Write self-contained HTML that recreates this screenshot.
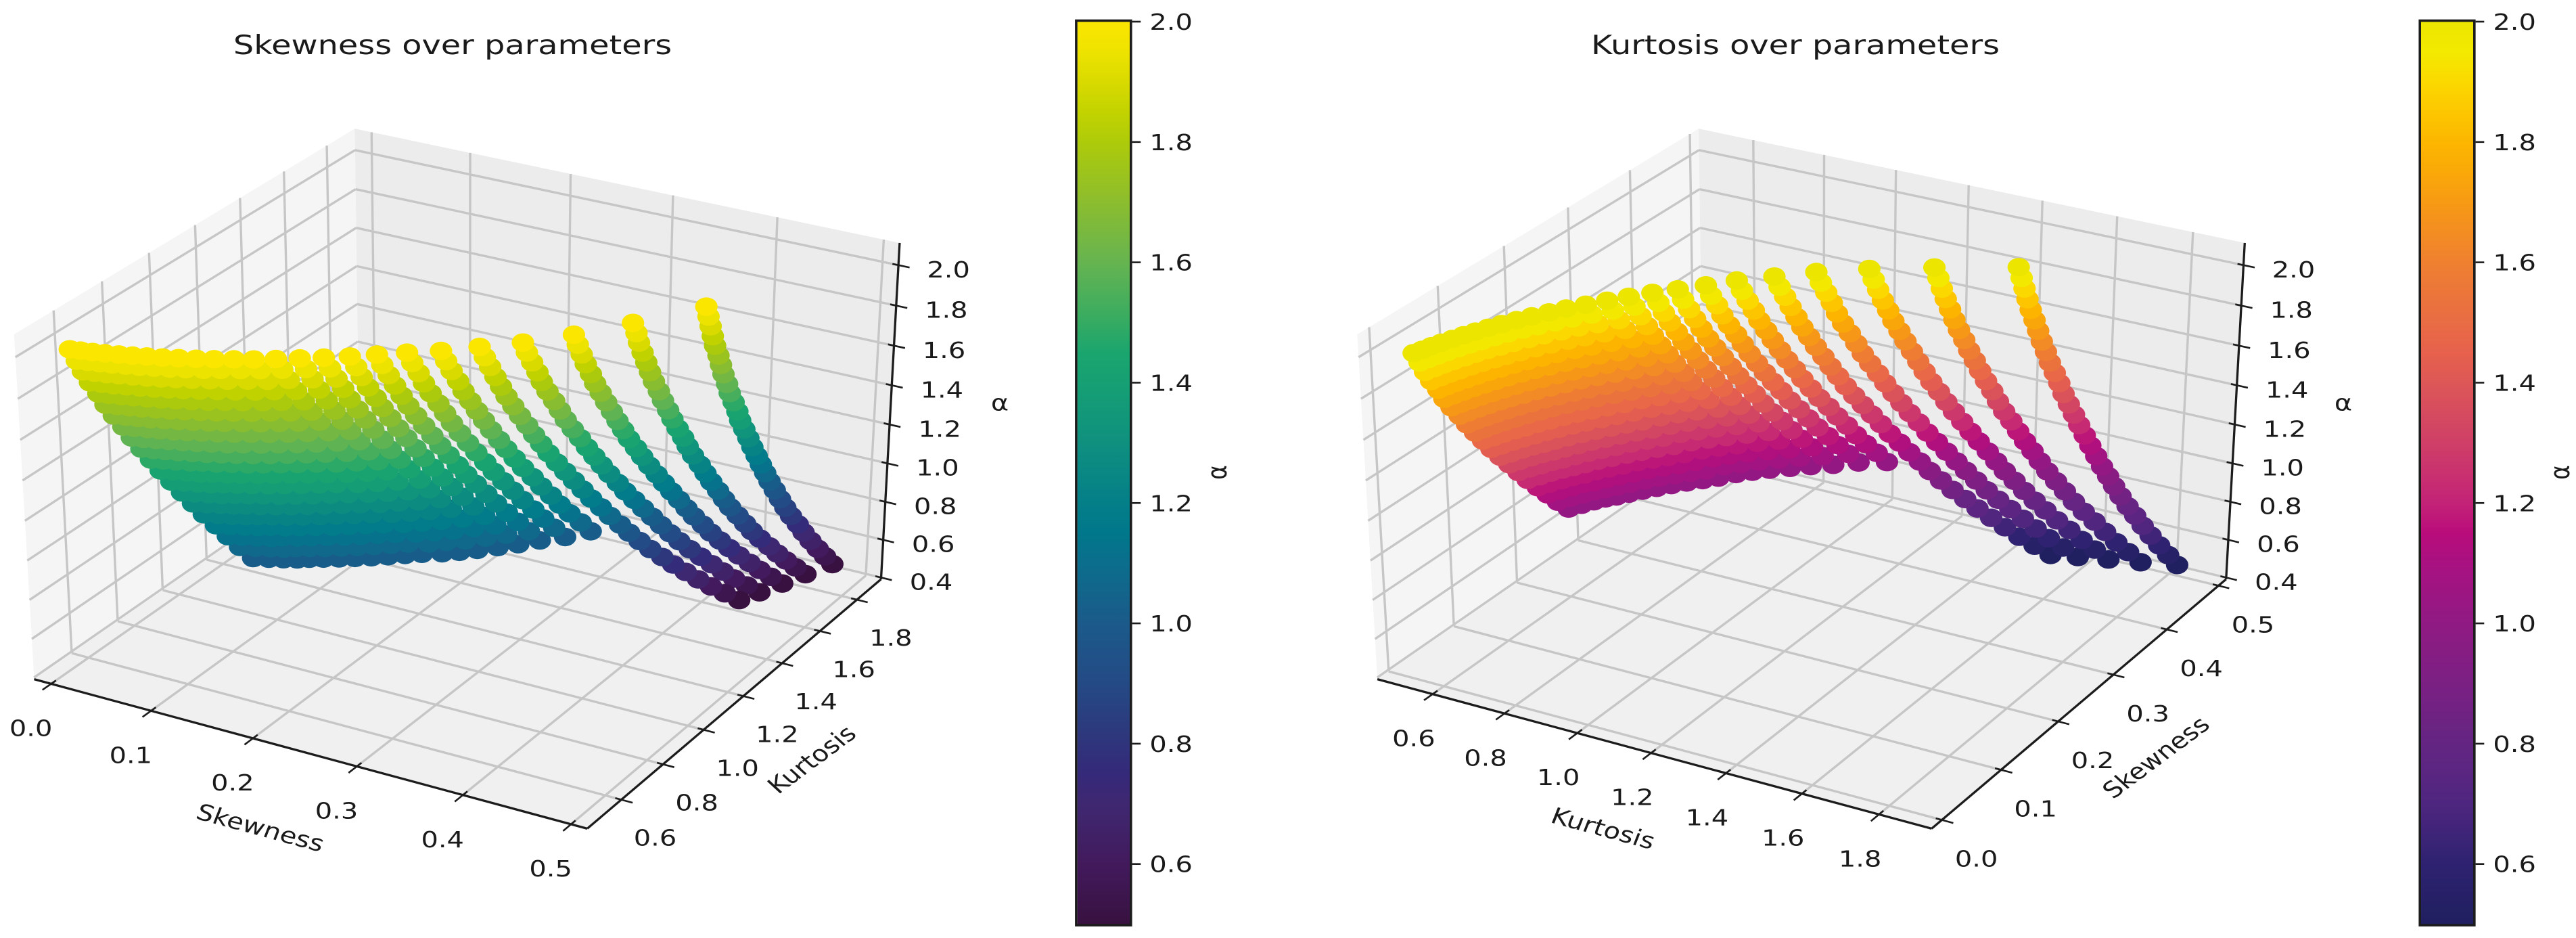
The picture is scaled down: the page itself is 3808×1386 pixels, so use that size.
<!DOCTYPE html>
<html lang="en">
<head>
<meta charset="utf-8">
<title>Skewness and Kurtosis over parameters</title>
<style>
html,body{margin:0;padding:0;background:#fff}
svg{display:block}
text{font-family:"DejaVu Sans","Liberation Sans",sans-serif;fill:#1a1a1a}
</style>
</head>
<body>
<svg id="figure" xmlns="http://www.w3.org/2000/svg" width="3808" height="1386" viewBox="0 0 3808 1386">
  <defs id="gradients"></defs>
  <g id="panel-left"></g>
  <g id="panel-right"></g>
  <g id="labels">
    <text font-size="39.5" text-anchor="middle" transform="translate(669,80) scale(1.21,1)">Skewness over parameters</text>
    <text font-size="39.5" text-anchor="middle" transform="translate(2654,80) scale(1.21,1)">Kurtosis over parameters</text>
    <text font-size="33" text-anchor="middle" dy=".35em" transform="translate(385,1223) scale(1.21,1) rotate(18)">Skewness</text>
    <text font-size="33" text-anchor="middle" dy=".35em" transform="translate(1200,1122) scale(1.21,1) rotate(-42)">Kurtosis</text>
    <text font-size="33" text-anchor="middle" dy=".35em" transform="translate(1478,595) scale(1.21,1)">α</text>
    <text font-size="33" text-anchor="middle" dy=".35em" transform="translate(2370,1224) scale(1.21,1) rotate(18)">Kurtosis</text>
    <text font-size="33" text-anchor="middle" dy=".35em" transform="translate(3187,1119) scale(1.21,1) rotate(-42)">Skewness</text>
    <text font-size="33" text-anchor="middle" dy=".35em" transform="translate(3464,595) scale(1.21,1)">α</text>
    <text font-size="33" text-anchor="middle" dy=".35em" transform="translate(1799,698) scale(1.21,1) rotate(-90)">α</text>
    <text font-size="33" text-anchor="middle" dy=".35em" transform="translate(3784,698) scale(1.21,1) rotate(-90)">α</text>
  </g>
</svg>
<script>
const alphaLevels = [2.000,1.948,1.897,1.845,1.793,1.741,1.690,1.638,1.586,1.534,1.483,1.431,1.379,1.328,1.276,1.224,1.172,1.121,1.069,1.017,.966,.914,.862,.810,.759,.707,.655,.603,.552,.500];

const skewnessByCurve = [
[.417,.418,.419,.420,.421,.423,.424,.425,.427,.428,.430,.432,.433,.435,.437,.439,.441,.443,.445,.447,.450,.453,.456,.459,.463,.466,.470,.474,.478,.482],
[.381,.383,.384,.386,.388,.390,.392,.395,.397,.400,.402,.405,.408,.410,.413,.417,.420,.423,.427,.430,.433,.437,.441,.444,.448,.453,.457,.461,.466,.471],
[.351,.353,.355,.357,.360,.362,.365,.368,.371,.374,.377,.380,.384,.387,.391,.395,.399,.403,.407,.411,.415,.420,.424,.429,.434,.439,.445,.450,.456,.462],
[.323,.325,.328,.331,.333,.336,.340,.343,.346,.350,.354,.358,.362,.366,.370,.375,.379,.384,.389,.394,.399,.404,.409,.415,.421,.427,.433,.439,.446,.453],
[.297,.300,.303,.306,.309,.312,.316,.320,.324,.328,.332,.336,.341,.346,.351,.356,.361,.367,.372,.378,.383,.389,.395,.402,.408,.415,.422,.429,.437,.445],
[.274,.277,.280,.284,.287,.291,.295,.299,.303,.308,.312,.317,.322,.328,.333,.339,.344,.350,.357,.363],
[.252,.255,.259,.262,.266,.271,.275,.279,.284,.289,.294,.300,.305,.311,.317,.323,.330,.336,.343,.350],
[.233,.236,.240,.244,.248,.252,.257,.262,.267,.272,.277,.283,.288,.294,.301,.307,.314,.321,.328,.335],
[.216,.220,.223,.227,.232,.236,.241,.246,.251,.257,.262,.268,.274,.280,.287,.294,.301,.308,.315,.323],
[.199,.203,.207,.211,.215,.220,.225,.230,.236,.241,.247,.253,.260,.266,.273,.280,.288,.295,.303,.311],
[.183,.187,.191,.195,.200,.205,.210,.215,.221,.227,.233,.239,.246,.253,.260,.267,.275,.283,.291,.299],
[.167,.171,.175,.180,.185,.190,.195,.201,.207,.213,.219,.226,.233,.240,.247,.255,.263,.271,.279,.288],
[.152,.156,.161,.165,.170,.176,.181,.187,.193,.199,.206,.213,.220,.227,.235,.243,.251,.259,.268,.277],
[.138,.142,.147,.152,.157,.162,.168,.174,.180,.186,.192,.199,.205,.213,.221,.229,.237,.245,.253,.263],
[.124,.128,.133,.138,.143,.149,.155,.161,.167,.173,.179,.186,.193,.201,.209,.217,.225,.233,.242,.252],
[.111,.116,.120,.125,.130,.136,.142,.148,.155,.161,.167,.174,.181,.189,.197,.205,.214,.222,.231,.241],
[.098,.103,.107,.112,.118,.124,.129,.136,.142,.149,.155,.162,.169,.177,.185,.194,.203,.211,.220,.230],
[.086,.091,.095,.100,.106,.112,.118,.124,.131,.137,.144,.151,.158,.166,.174,.182,.191,.199,.209,.219],
[.074,.079,.084,.089,.094,.100,.106,.112,.119,.126,.132,.139,.146,.154,.163,.171,.180,.188,.198,.208],
[.063,.068,.073,.078,.083,.089,.095,.101,.108,.115,.121,.129,.135,.143,.152,.160,.170,.178,.187,.197],
[.052,.057,.062,.067,.072,.078,.084,.091,.097,.104,.110,.118,.125,.133,.141,.150,.159,.167,.177,.187],
[.041,.046,.051,.056,.061,.067,.073,.080,.086,.093,.101,.108,.116,.124,.132,.141,.150,.160,.169,.179],
[.031,.036,.041,.046,.051,.057,.063,.070,.076,.083,.090,.098,.106,.114,.122,.131,.140,.149,.159,.169],
[.021,.026,.031,.036,.041,.047,.053,.059,.066,.073,.080,.087,.095,.103,.112,.120,.129,.138,.148,.158],
[.012,.017,.021,.026,.032,.037,.043,.050,.056,.063,.070,.077,.085,.093,.101,.109,.118,.127,.136,.146]
];

const kurtosisByCurve = [
[1.484,1.491,1.498,1.505,1.513,1.521,1.530,1.539,1.548,1.558,1.569,1.579,1.590,1.602,1.614,1.626,1.639,1.652,1.666,1.680,1.693,1.706,1.720,1.736,1.752,1.769,1.786,1.805,1.825,1.845],
[1.314,1.322,1.330,1.338,1.347,1.356,1.366,1.376,1.387,1.398,1.410,1.422,1.435,1.448,1.461,1.475,1.490,1.505,1.520,1.536,1.553,1.572,1.591,1.612,1.634,1.657,1.681,1.707,1.733,1.761],
[1.186,1.195,1.204,1.214,1.224,1.235,1.247,1.259,1.272,1.285,1.298,1.312,1.327,1.343,1.358,1.375,1.392,1.409,1.428,1.446,1.464,1.484,1.505,1.527,1.550,1.575,1.601,1.628,1.656,1.686],
[1.088,1.097,1.107,1.117,1.128,1.140,1.152,1.165,1.178,1.192,1.207,1.221,1.237,1.253,1.270,1.287,1.305,1.324,1.343,1.363,1.382,1.403,1.425,1.448,1.473,1.499,1.526,1.554,1.584,1.615],
[1.017,1.026,1.036,1.046,1.057,1.068,1.080,1.092,1.106,1.119,1.133,1.148,1.163,1.179,1.196,1.213,1.230,1.248,1.267,1.287,1.307,1.329,1.352,1.377,1.402,1.430,1.458,1.488,1.519,1.552],
[.953,.962,.972,.982,.992,1.004,1.015,1.028,1.041,1.054,1.068,1.083,1.098,1.114,1.130,1.147,1.164,1.182,1.201,1.220],
[.906,.915,.924,.933,.944,.955,.966,.978,.990,1.003,1.017,1.030,1.045,1.060,1.076,1.092,1.109,1.126,1.144,1.162],
[.862,.871,.880,.889,.899,.910,.921,.933,.946,.958,.972,.985,1.000,1.015,1.030,1.046,1.063,1.080,1.098,1.116],
[.822,.831,.840,.849,.859,.870,.881,.892,.905,.917,.930,.944,.958,.973,.988,1.004,1.021,1.038,1.055,1.073],
[.787,.795,.804,.814,.823,.834,.845,.856,.869,.881,.894,.908,.922,.936,.951,.967,.983,1.000,1.017,1.035],
[.756,.764,.773,.782,.792,.802,.813,.824,.836,.848,.861,.874,.887,.902,.916,.932,.948,.964,.981,.998],
[.726,.734,.743,.751,.761,.771,.782,.793,.804,.816,.831,.844,.857,.871,.887,.902,.917,.933,.951,.968],
[.699,.707,.715,.724,.733,.743,.754,.765,.776,.788,.803,.817,.830,.845,.859,.875,.890,.907,.923,.941],
[.677,.685,.693,.701,.710,.720,.730,.740,.751,.763,.780,.793,.806,.820,.835,.850,.865,.881,.898,.915],
[.655,.663,.670,.679,.687,.697,.707,.717,.728,.739,.756,.769,.783,.796,.811,.825,.841,.857,.873,.890],
[.637,.644,.652,.660,.668,.677,.687,.697,.707,.718,.735,.748,.761,.773,.787,.802,.817,.832,.848,.864],
[.620,.627,.634,.642,.650,.659,.668,.678,.688,.698,.715,.727,.740,.752,.766,.780,.794,.809,.824,.840],
[.605,.612,.619,.626,.634,.643,.652,.661,.670,.680,.697,.709,.721,.733,.746,.759,.774,.788,.803,.818],
[.592,.599,.605,.613,.620,.628,.637,.646,.655,.665,.681,.691,.703,.716,.728,.740,.754,.768,.782,.797],
[.580,.586,.593,.600,.607,.615,.624,.632,.641,.650,.665,.676,.687,.699,.711,.724,.736,.750,.764,.778],
[.570,.576,.583,.589,.596,.604,.612,.620,.629,.638,.653,.662,.674,.685,.696,.709,.722,.734,.747,.761],
[.560,.566,.572,.579,.586,.593,.601,.609,.618,.626,.640,.649,.660,.670,.682,.694,.706,.718,.731,.744],
[.552,.558,.564,.570,.577,.584,.592,.600,.608,.616,.628,.638,.648,.658,.670,.680,.693,.704,.717,.729],
[.545,.551,.557,.563,.569,.576,.584,.591,.599,.608,.618,.627,.637,.646,.657,.668,.679,.690,.702,.714],
[.539,.544,.550,.556,.563,.569,.576,.584,.592,.600,.608,.617,.626,.635,.645,.655,.666,.676,.688,.699]
];

const skewnessTicks = [0,0.1,0.2,0.3,0.4,0.5];
const skewnessTickLabels = ['0.0','0.1','0.2','0.3','0.4','0.5'];
const kurtosisTicks = [0.6,0.8,1.0,1.2,1.4,1.6,1.8];
const kurtosisTickLabels = ['0.6','0.8','1.0','1.2','1.4','1.6','1.8'];
const alphaTicks = [0.4,0.6,0.8,1.0,1.2,1.4,1.6,1.8,2.0];
const alphaTickLabels = ['0.4','0.6','0.8','1.0','1.2','1.4','1.6','1.8','2.0'];
const colorbarTicks = [0.6,0.8,1.0,1.2,1.4,1.6,1.8,2.0];
const colorbarTickLabels = ['0.6','0.8','1.0','1.2','1.4','1.6','1.8','2.0'];

const viridisStops = [[2.0,'#fbe600'],[1.95,'#eee300'],[1.9,'#d9da00'],[1.85,'#c3d300'],[1.8,'#aecb0a'],[1.7,'#8cbd2e'],[1.6,'#66b450'],[1.5,'#35ab62'],[1.45,'#1ba56e'],[1.4,'#16a073'],[1.3,'#0f907f'],[1.2,'#047f88'],[1.15,'#00778b'],[1.1,'#0b6e8c'],[1.0,'#1b5a8a'],[0.9,'#244a85'],[0.8,'#2f347b'],[0.75,'#35297a'],[0.7,'#3f2871'],[0.6,'#421a5c'],[0.5,'#381140']];
const plasmaStops = [[2.0,'#ece500'],[1.95,'#f3ea00'],[1.9,'#fbd900'],[1.85,'#fdc700'],[1.8,'#fcb600'],[1.75,'#faa908'],[1.7,'#f79a14'],[1.6,'#ef8030'],[1.5,'#e86c44'],[1.45,'#e7614c'],[1.4,'#dd5757'],[1.3,'#cf3f67'],[1.2,'#c32377'],[1.15,'#b90c7b'],[1.1,'#a91181'],[1.0,'#901a83'],[0.9,'#7b2083'],[0.8,'#642582'],[0.7,'#4e267f'],[0.6,'#2e2270'],[0.5,'#201f60']];

const SVGNS = 'http://www.w3.org/2000/svg';
const STRETCH = 1.21;
const HX = 0.5952, HY = 0.5952, HZ = 0.4464;

function svgEl(tag, attrs){
  const e = document.createElementNS(SVGNS, tag);
  for (const k in attrs) e.setAttribute(k, attrs[k]);
  return e;
}
function hexToRgb(h){ return [parseInt(h.slice(1,3),16),parseInt(h.slice(3,5),16),parseInt(h.slice(5,7),16)]; }
function colorAt(stops, a){
  if (a >= stops[0][0]) return stops[0][1];
  for (let i = 1; i < stops.length; i++){
    if (a >= stops[i][0]){
      const t = (a - stops[i][0]) / (stops[i-1][0] - stops[i][0]);
      const c0 = hexToRgb(stops[i][1]), c1 = hexToRgb(stops[i-1][1]);
      return 'rgb(' + [0,1,2].map(j => Math.round(c0[j] + (c1[j]-c0[j])*t)).join(',') + ')';
    }
  }
  return stops[stops.length-1][1];
}
function projectFrac(panel, fx, fy, fz){
  const px = (2*fx-1)*HX, py = (2*fy-1)*HY, pz = (2*fz-1)*HZ;
  const xv = 0.8660254*px + 0.5*py;
  const yv = -0.25*px + 0.4330127*py + 0.8660254*pz;
  const d = 10 - (0.4330127*px - 0.75*py + 0.5*pz);
  return { x: panel.ox + panel.sx*xv/d, y: panel.oy - panel.sy*yv/d, d: d };
}
function xFrac(panel, v){ return (v - panel.xlim[0]) / (panel.xlim[1] - panel.xlim[0]); }
function yFrac(panel, v){ return (v - panel.ylim[0]) / (panel.ylim[1] - panel.ylim[0]); }
function zFrac(panel, v){ return (v - panel.zlim[0]) / (panel.zlim[1] - panel.zlim[0]); }
function lineBetween(g, a, b, stroke, width){
  const l = svgEl('line', {x1:a.x.toFixed(2), y1:a.y.toFixed(2), x2:b.x.toFixed(2), y2:b.y.toFixed(2), stroke:stroke, 'stroke-width':width});
  g.appendChild(l);
  return l;
}
function polyOf(g, pts, fill){
  const p = svgEl('polygon', {points: pts.map(q => q.x.toFixed(2)+','+q.y.toFixed(2)).join(' '), fill: fill});
  g.appendChild(p);
  return p;
}
function tickText(g, cx, cy, str){
  const t = svgEl('text', {'font-size':33, 'text-anchor':'middle', transform:'translate('+cx.toFixed(1)+','+(cy+12).toFixed(1)+') scale('+STRETCH+',1)'});
  t.textContent = str;
  g.appendChild(t);
  return t;
}

function drawPanel(panel){
  const g = document.getElementById(panel.id);
  const P = (fx,fy,fz) => projectFrac(panel, fx, fy, fz);

  const paneLeft = polyOf(g, [P(0,0,0),P(0,0,1),P(0,1,1),P(0,1,0)], '#f5f5f5');
  
  
  const paneBack = polyOf(g, [P(0,1,0),P(0,1,1),P(1,1,1),P(1,1,0)], '#ececec');
  
  
  const paneFloor = polyOf(g, [P(0,0,0),P(1,0,0),P(1,1,0),P(0,1,0)], '#f0f0f0');
  
  

  const GRID = '#c6c6c6', GW = 3.4, AXIS = '#1c1c1c';

  panel.xTicks.forEach(v => {
    const f = xFrac(panel, v);
    const a = lineBetween(g, P(f,0,0), P(f,1,0), GRID, GW);
    
    
    const b = lineBetween(g, P(f,1,0), P(f,1,1), GRID, GW);
    
    
  });
  panel.yTicks.forEach(v => {
    const f = yFrac(panel, v);
    const a = lineBetween(g, P(0,f,0), P(1,f,0), GRID, GW);
    
    
    const b = lineBetween(g, P(0,f,0), P(0,f,1), GRID, GW);
    
    
  });
  alphaTicks.forEach(v => {
    const f = zFrac(panel, v);
    const a = lineBetween(g, P(0,0,f), P(0,1,f), GRID, GW);
    
    
    const b = lineBetween(g, P(0,1,f), P(1,1,f), GRID, GW);
    
    
  });

  const xAxis = lineBetween(g, P(0,0,0), P(1,0,0), AXIS, 3.3);
  
  
  const yAxis = lineBetween(g, P(1,0,0), P(1,1,0), AXIS, 3.3);
  
  
  const zAxis = lineBetween(g, P(1,1,0), P(1,1,1), AXIS, 3.3);
  
  

  panel.xTicks.forEach((v,i) => {
    const f = xFrac(panel, v);
    const on = P(f,0,0);
    const tick = lineBetween(g, P(f,0.0138,0), P(f,-0.0246,0), AXIS, 2.6);
    
    
    const label = tickText(g, on.x + panel.xLabelOffset[0], on.y + panel.xLabelOffset[1], panel.xTickLabels[i]);
    
    
  });
  panel.yTicks.forEach((v,i) => {
    const f = yFrac(panel, v);
    const on = P(1,f,0);
    const tick = lineBetween(g, P(1-0.0105,f,0), P(1+0.0195,f,0), AXIS, 2.6);
    
    
    const label = tickText(g, on.x + panel.yLabelOffset[0], on.y + panel.yLabelOffset[1], panel.yTickLabels[i]);
    
    
  });
  alphaTicks.forEach((v,i) => {
    const f = zFrac(panel, v);
    const on = P(1,1,f);
    const tick = lineBetween(g, P(1-0.0105,1,f), P(1+0.0195,1,f), AXIS, 2.6);
    
    
    const label = tickText(g, on.x + 74, on.y + 6, alphaTickLabels[i]);
    
    
  });

  const points = [];
  skewnessByCurve.forEach((curve, c) => {
    curve.forEach((s, i) => {
      const k = kurtosisByCurve[c][i];
      const a = alphaLevels[i];
      const q = panel.swap ? P(xFrac(panel,k), yFrac(panel,s), zFrac(panel,a))
                           : P(xFrac(panel,s), yFrac(panel,k), zFrac(panel,a));
      points.push({q:q, a:a});
    });
  });
  points.sort((m,n) => n.q.d - m.q.d);
  const scatter = svgEl('g', {});
  
  
  g.appendChild(scatter);
  points.forEach(pt => {
    const dot = svgEl('ellipse', {cx:pt.q.x.toFixed(1), cy:pt.q.y.toFixed(1), rx:16.6, ry:13.7, fill:colorAt(panel.stops, pt.a)});
    
    
    scatter.appendChild(dot);
  });

  const CB_TOP = 32, CB_BOTTOM = 1365.6;
  const cbY = a => CB_TOP + (2.0 - a) / 1.5 * (CB_BOTTOM - CB_TOP);
  const grad = svgEl('linearGradient', {id:panel.id+'-grad', x1:0, y1:0, x2:0, y2:1});
  panel.stops.forEach(st => {
    grad.appendChild(svgEl('stop', {offset:((2.0-st[0])/1.5).toFixed(4), 'stop-color':st[1]}));
  });
  document.getElementById('gradients').appendChild(grad);
  const bar = svgEl('rect', {x:panel.cbX, y:CB_TOP-0.5, width:panel.cbW, height:CB_BOTTOM-CB_TOP+1, fill:'url(#'+panel.id+'-grad)'});
  
  
  g.appendChild(bar);
  const frame = svgEl('rect', {x:panel.cbX-1.8, y:CB_TOP-1.5, width:panel.cbW+3.6, height:CB_BOTTOM-CB_TOP+3, fill:'none', stroke:'#1c1c1c', 'stroke-width':3.6});
  
  
  g.appendChild(frame);
  colorbarTicks.forEach((v,i) => {
    const y = cbY(v);
    const x0 = panel.cbX + panel.cbW + 3.6;
    const tick = lineBetween(g, {x:x0,y:y}, {x:x0+12.7,y:y}, '#1c1c1c', 2.6);
    
    
    const label = tickText(g, x0 + 57.5, y, colorbarTickLabels[i]);
    
    
  });
}

drawPanel({
  id:'panel-left', ox:688, sx:7868, oy:682.4, sy:6505,
  xlim:[-0.0172,0.5148], ylim:[0.44,1.933], zlim:[0.391,2.109], swap:false,
  xTicks:skewnessTicks, xTickLabels:skewnessTickLabels,
  yTicks:kurtosisTicks, yTickLabels:kurtosisTickLabels,
  xLabelOffset:[-30,65], yLabelOffset:[50,56],
  stops:viridisStops, cbX:1592.7, cbW:77.3
});
drawPanel({
  id:'panel-right', ox:2675, sx:7885, oy:682.4, sy:6505,
  xlim:[0.444,1.935], ylim:[-0.017,0.515], zlim:[0.391,2.109], swap:true,
  xTicks:kurtosisTicks, xTickLabels:kurtosisTickLabels,
  yTicks:skewnessTicks, yTickLabels:skewnessTickLabels,
  xLabelOffset:[-28,65], yLabelOffset:[51,57],
  stops:plasmaStops, cbX:3579, cbW:77
});
</script>
</body>
</html>
